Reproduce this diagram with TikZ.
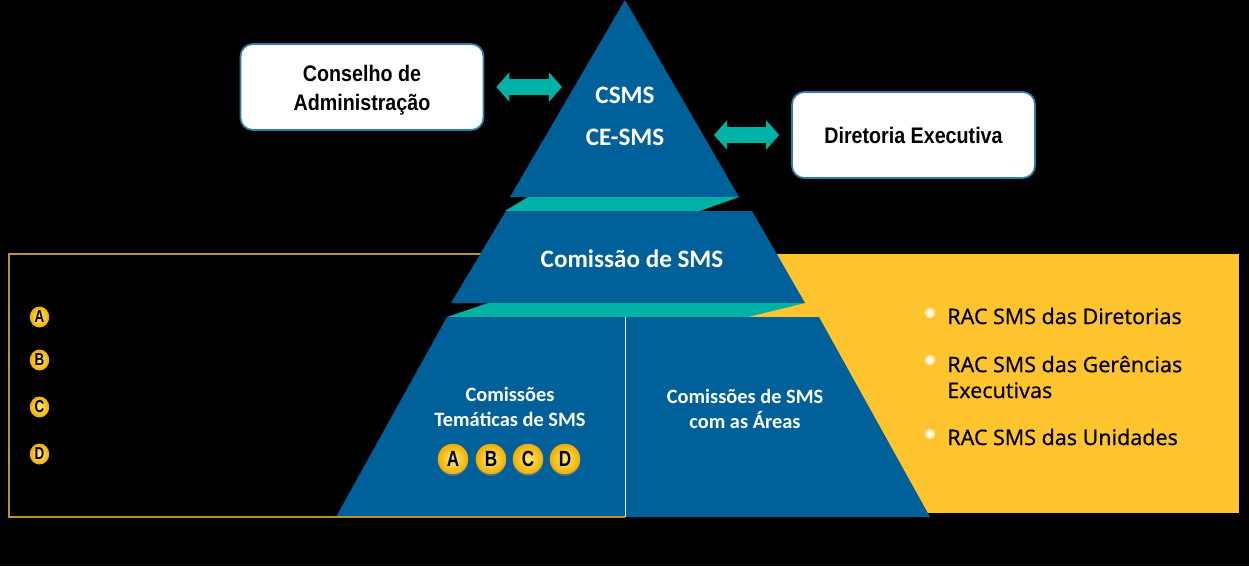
\documentclass[tikz,border=0pt]{standalone}
\usepackage{fontspec}
\setmainfont{Liberation Sans}
\newfontfamily\caixafont{Liberation Sans}[FakeStretch=0.875]
\newfontfamily\bolafont{Liberation Sans}[FakeStretch=0.78]
\newfontfamily\piramidefont{Carlito}[BoldFont={Carlito Bold}]
\newfontfamily\racfont{Noto Sans}[FakeBold=0.25]
\usetikzlibrary{arrows.meta,shapes.geometric,shadows}
\definecolor{azulpir}{HTML}{00609A}
\definecolor{verdefaixa}{HTML}{00B2A5}
\definecolor{amarelo}{HTML}{FFC42E}
\definecolor{ouro}{HTML}{B8962E}
\definecolor{bordacaixa}{HTML}{2B7FA6}
\definecolor{bolaclara}{HTML}{FFEB70}
\definecolor{bolaescura}{HTML}{F0AE00}
\begin{document}
\begin{tikzpicture}[x=0.02cm, y=-0.02cm,
  caixa/.style={draw=bordacaixa, line width=1pt, fill=white, rounded corners=7pt, minimum width=4.86cm, minimum height=1.72cm, align=center, font=\caixafont\fontsize{12.8}{16.5}\selectfont\bfseries},
  rotulo/.style={text=white, align=center},
  grande/.style={rotulo, font=\piramidefont\bfseries\fontsize{14.3}{16}\selectfont},
  pequeno/.style={rotulo, font=\piramidefont\bfseries\fontsize{11.6}{14}\selectfont},
  bola/.style={circle, inner sep=0pt, minimum size=0.61cm, inner color=bolaclara, outer color=bolaescura, text=black, drop shadow={shadow xshift=0pt, shadow yshift=-1pt, opacity=0.5}, font=\bolafont\fontsize{12.5}{12}\selectfont\bfseries},
  bolinha/.style={ellipse, inner sep=0pt, minimum width=0.39cm, minimum height=0.42cm, inner color=bolaclara, outer color=bolaescura, text=black, font=\bolafont\fontsize{9.8}{9}\selectfont\bfseries},
  marca/.style={circle, inner sep=0pt, minimum size=0.21cm, inner color=white, outer color=amarelo!45!white},
  item/.style={anchor=west, inner sep=0pt, text=black, align=left, font=\racfont\fontsize{12.2}{14.7}\selectfont},
  duplo/.style={verdefaixa, line width=8.6pt, {Triangle[length=7.5pt,width=16.5pt]}-{Triangle[length=7.5pt,width=16.5pt]}}]
\fill[black] (0,0) rectangle (1249,566);
\useasboundingbox (0,0) rectangle (1249,566);
\fill[amarelo] (700,254) rectangle (1239,513);
\draw[ouro, line width=1.1pt] (625,517) -- (9,517) -- (9,254) -- (500,254);
\fill[azulpir] (625,0) -- (739,197) -- (510,197) -- cycle;
\fill[verdefaixa] (528,197) -- (739,197) -- (700,211) -- (505,211) -- cycle;
\fill[azulpir] (506,211) -- (752,211) -- (805,303) -- (451,303) -- cycle;
\fill[verdefaixa] (488,303) -- (805,303) -- (748,317) -- (447,317) -- cycle;
\fill[azulpir] (447,317) -- (819,317) -- (930,517) -- (336,517) -- cycle;
\draw[ouro, line width=1.1pt] (336,517) -- (625,517);
\node[grande] (csms) at (625,95) {CSMS};
\node[grande] (cesms) at (625,137) {CE-SMS};
\node[grande] (comissao) at (632,259) {Comissão de SMS};
\node[pequeno] (tematicas) at (510,407) {Comissões\\Temáticas de SMS};
\node[pequeno] (areas) at (745,409) {Comissões de SMS\\com as Áreas};
\draw[white, line width=0.5pt] (cesms |- 0,317) -- (cesms |- 0,517);
\node[caixa] (conselho) at (362,87) {\rule{0pt}{12.4pt}Conselho de\\Administração};
\node[caixa] (diretoria) at (913.5,135) {Diretoria Executiva};
\coordinate (pontaesq) at (562,87);
\coordinate (pontadir) at (714,135);
\draw[duplo, shorten <=6.8pt] (conselho.east) -- (pontaesq);
\draw[duplo, shorten <=6.8pt] (diretoria.west) -- (pontadir);
\foreach \letra/\xpos in {A/453, B/491, C/528, D/565}
  \node[bola] (g\letra) at (\xpos,459) {\letra};
\foreach \letra/\ypos in {A/317, B/360, C/407, D/454}
  \node[bolinha] (p\letra) at (39.5,\ypos) {\letra};
\node[marca] (m1) at (930,313) {};
\node[marca] (m2) at (930,360) {};
\node[marca] (m3) at (930,434) {};
\node[item] (rac1) at (947,316) {RAC SMS das Diretorias};
\node[item] (rac2) at (947,377) {RAC SMS das Gerências\\Executivas};
\node[item] (rac3) at (947,437) {RAC SMS das Unidades};
\end{tikzpicture}
\end{document}
